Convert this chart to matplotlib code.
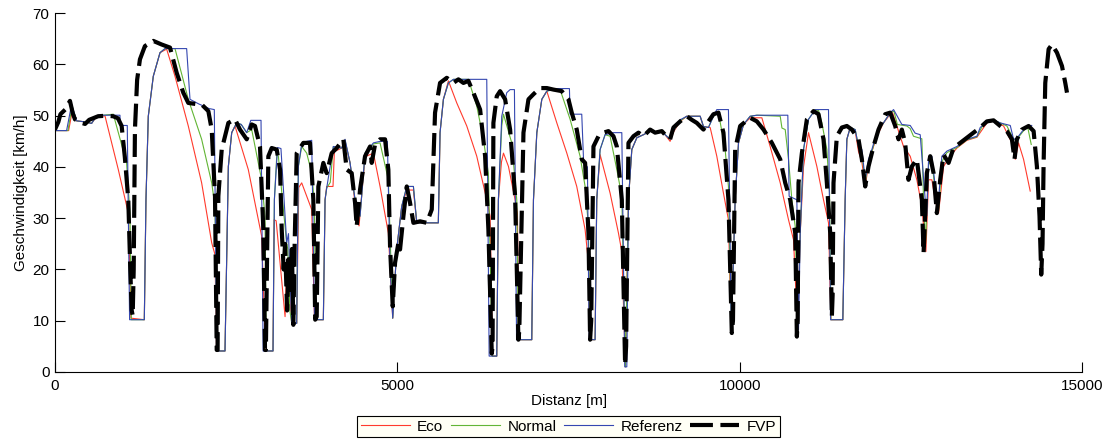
#!/usr/bin/env python3
"""Speed profile over distance: Eco / Normal / Referenz vs. FVP."""

import numpy as np
import matplotlib
matplotlib.use("Agg")
import matplotlib.pyplot as plt

# (distance [m], speed [km/h])
REFERENZ = [
    (0, 47.1), (170, 47.1), (243, 52.2), (316, 49.0), (440, 48.8), (535, 48.5),
    (600, 49.8), (633, 50.1), (949, 50.1), (955, 48.1), (1056, 48.1), (1090, 10.2),
    (1305, 10.2), (1329, 33.6), (1363, 49.9), (1436, 57.7), (1534, 62.3), (1607, 63.1),
    (1923, 63.1), (1972, 53.2), (2100, 52.3), (2250, 51.4), (2327, 51.2), (2360, 4.1),
    (2483, 4.1), (2532, 40.1), (2581, 46.7), (2654, 48.6), (2720, 48.3), (2800, 46.7),
    (2860, 49.1), (3009, 49.1), (3040, 4.1), (3184, 4.1), (3204, 33.6), (3250, 43.8),
    (3300, 43.6), (3384, 25.2), (3410, 27.0), (3457, 9.5), (3530, 9.5), (3554, 40.1),
    (3603, 44.5), (3676, 45.0), (3749, 45.2), (3790, 10.2), (3919, 10.2), (3944, 33.6),
    (3968, 35.9), (4065, 44.0), (4187, 43.7), (4236, 45.4), (4309, 40.8), (4382, 33.6),
    (4455, 30.4), (4528, 42.7), (4650, 44.7), (4747, 45.0), (4854, 45.0), (4893, 20.6),
    (4932, 10.5), (4990, 23.9), (5063, 32.3), (5137, 36.2), (5234, 36.2), (5283, 29.1),
    (5598, 29.1), (5623, 46.7), (5672, 53.2), (5745, 56.4), (5818, 57.1), (6305, 57.1),
    (6340, 3.1), (6451, 3.1), (6475, 33.6), (6524, 49.9), (6597, 54.5), (6646, 55.1),
    (6709, 55.1), (6740, 6.3), (6962, 6.3), (6987, 33.6), (7036, 46.7), (7109, 53.2),
    (7182, 54.8), (7279, 55.3), (7512, 55.3), (7522, 50.3), (7692, 50.3), (7720, 40.8),
    (7775, 40.0), (7800, 6.3), (7887, 6.3), (7911, 33.6), (7960, 43.4), (8033, 46.3),
    (8155, 46.7), (8277, 46.7), (8320, 1.0), (8350, 1.0), (8374, 33.6), (8423, 43.4),
    (8496, 45.7), (8593, 46.3), (8690, 47.0), (8763, 46.7), (8861, 47.0), (8909, 46.3),
    (8982, 45.4), (9031, 47.0), (9129, 49.2), (9226, 49.9), (9421, 49.9), (9469, 47.9),
    (9542, 47.7), (9615, 49.9), (9664, 51.2), (9834, 51.2), (9875, 7.6), (9932, 33.6),
    (9981, 44.7), (10054, 48.3), (10151, 49.9), (10249, 50.1), (10701, 50.1), (10720, 34.3),
    (10833, 33.6), (10857, 8.2), (10882, 27.1), (10930, 43.4), (11003, 49.3), (11101, 51.2),
    (11295, 51.2), (11325, 10.2), (11504, 10.2), (11538, 33.6), (11563, 45.4), (11612, 47.7),
    (11685, 47.3), (11733, 44.0), (11782, 43.4), (11831, 37.5), (11879, 41.5), (11928, 43.4),
    (12001, 46.7), (12098, 48.6), (12196, 50.6), (12245, 51.2), (12366, 48.3), (12488, 48.1),
    (12560, 46.6), (12634, 46.3), (12707, 33.6), (12730, 30.5), (12756, 41.5), (12804, 42.1),
    (12853, 36.2), (12902, 33.6), (12950, 42.1), (13024, 43.1), (13170, 44.0), (13316, 45.4),
    (13462, 46.0), (13510, 47.7), (13608, 48.9), (13705, 49.2), (13802, 48.6), (13949, 48.1),
    (13997, 45.4), (14046, 45.6), (14143, 47.3), (14241, 48.0), (14262, 48.1),
]

NORMAL = [
    (0, 47.1), (190, 47.1), (250, 51.9), (316, 49.0), (440, 48.8), (535, 48.5),
    (600, 49.8), (633, 50.0), (852, 50.3), (1046, 40.8), (1095, 31.0), (1115, 10.2),
    (1305, 10.2), (1329, 33.6), (1363, 49.9), (1436, 57.7), (1534, 62.3), (1607, 63.1),
    (1753, 63.1), (1947, 53.2), (2142, 45.4), (2289, 36.9), (2337, 32.3), (2362, 4.1),
    (2483, 4.1), (2532, 40.1), (2581, 46.7), (2654, 48.6), (2720, 48.3), (2800, 46.7),
    (2873, 47.3), (3018, 37.5), (3067, 30.4), (3085, 4.1), (3184, 4.1), (3204, 33.6),
    (3240, 42.5), (3262, 42.1), (3384, 25.0), (3400, 24.0), (3430, 12.0), (3457, 9.5),
    (3530, 9.5), (3554, 40.1), (3603, 44.0), (3676, 42.7), (3749, 38.8), (3785, 33.6),
    (3810, 10.2), (3919, 10.2), (3944, 33.6), (3968, 35.9), (4020, 37.0), (4065, 44.0),
    (4187, 43.7), (4236, 45.2), (4309, 40.8), (4382, 33.6), (4455, 30.4), (4528, 42.7),
    (4650, 44.5), (4747, 44.7), (4868, 37.5), (4932, 10.5), (4990, 23.9), (5063, 32.3),
    (5137, 36.2), (5234, 36.2), (5283, 29.1), (5598, 29.1), (5623, 46.7), (5672, 53.2),
    (5745, 56.4), (5818, 57.1), (6037, 57.1), (6159, 51.9), (6256, 45.4), (6329, 38.8),
    (6385, 3.1), (6451, 3.1), (6475, 33.6), (6524, 48.0), (6549, 50.3), (6670, 44.7),
    (6743, 33.6), (6765, 6.3), (6962, 6.3), (6987, 33.6), (7036, 46.7), (7109, 53.2),
    (7182, 54.8), (7279, 55.1), (7376, 55.1), (7522, 49.3), (7668, 42.1), (7741, 36.2),
    (7790, 28.4), (7805, 6.3), (7887, 6.3), (7911, 33.6), (7960, 43.4), (8033, 46.3),
    (8106, 46.0), (8204, 39.5), (8277, 34.3), (8330, 1.0), (8374, 33.6), (8423, 43.4),
    (8496, 45.7), (8593, 46.3), (8690, 47.0), (8763, 46.7), (8861, 47.0), (8909, 46.3),
    (8982, 45.4), (9031, 47.0), (9129, 49.0), (9226, 49.9), (9421, 49.9), (9469, 47.9),
    (9542, 47.7), (9615, 49.9), (9688, 50.6), (9786, 43.4), (9834, 36.2), (9875, 7.6),
    (9932, 33.6), (9981, 44.7), (10054, 48.3), (10151, 49.9), (10249, 50.1), (10590, 49.9),
    (10615, 47.6), (10663, 47.3), (10711, 41.5), (10760, 33.6), (10809, 28.4), (10845, 8.2),
    (10882, 27.1), (10930, 43.4), (11003, 49.3), (11101, 51.2), (11150, 51.0), (11198, 48.6),
    (11271, 43.4), (11310, 35.0), (11330, 10.2), (11504, 10.2), (11538, 33.6), (11563, 45.4),
    (11612, 47.7), (11685, 47.3), (11733, 44.0), (11782, 42.5), (11831, 37.0), (11879, 41.0),
    (11928, 43.0), (12001, 46.5), (12098, 48.6), (12196, 50.6), (12250, 50.9), (12300, 48.3),
    (12439, 48.0), (12488, 47.5), (12536, 46.0), (12658, 45.5), (12683, 33.6), (12712, 25.0),
    (12756, 40.5), (12804, 41.5), (12853, 35.0), (12902, 31.5), (12950, 41.0), (13024, 42.8),
    (13170, 43.8), (13316, 45.3), (13462, 45.9), (13530, 47.7), (13608, 48.9), (13705, 49.2),
    (13802, 48.6), (13900, 48.0), (13997, 45.4), (14046, 45.4), (14168, 47.5), (14200, 48.0),
    (14255, 44.4),
]

ECO = [
    (0, 47.1), (200, 47.1), (256, 51.2), (316, 49.0), (440, 48.8), (535, 48.5),
    (600, 49.7), (730, 50.0), (925, 39.5), (1071, 31.0), (1090, 22.0), (1110, 10.5),
    (1305, 10.2), (1329, 33.6), (1363, 49.9), (1436, 57.7), (1534, 62.3), (1631, 63.0),
    (1753, 57.7), (1947, 48.0), (2142, 36.9), (2289, 25.2), (2337, 22.9), (2360, 4.1),
    (2483, 4.1), (2532, 40.1), (2581, 46.7), (2629, 48.0), (2823, 39.5), (3018, 26.5),
    (3060, 10.0), (3080, 4.1), (3184, 4.1), (3200, 29.7), (3230, 29.5), (3360, 10.8),
    (3390, 22.0), (3430, 14.0), (3457, 9.5), (3530, 9.5), (3560, 36.0), (3603, 36.9),
    (3749, 31.7), (3790, 10.2), (3919, 10.2), (3944, 33.6), (3968, 36.2), (4060, 36.2),
    (4080, 43.0), (4187, 43.7), (4236, 45.0), (4309, 40.8), (4382, 33.0), (4440, 28.5),
    (4528, 42.0), (4650, 42.7), (4747, 36.2), (4868, 27.1), (4932, 10.5), (4990, 23.9),
    (5063, 32.3), (5137, 35.5), (5234, 35.5), (5283, 29.1), (5598, 29.1), (5623, 46.7),
    (5672, 53.2), (5745, 56.8), (5867, 52.5), (6013, 48.0), (6159, 42.1), (6305, 33.6),
    (6354, 30.4), (6390, 3.1), (6451, 3.1), (6475, 33.6), (6520, 41.0), (6549, 42.7),
    (6622, 40.1), (6719, 33.6), (6753, 31.0), (6770, 6.3), (6962, 6.3), (6987, 33.6),
    (7036, 46.7), (7109, 53.2), (7182, 54.8), (7328, 48.6), (7474, 42.7), (7619, 36.2),
    (7741, 27.8), (7790, 21.3), (7805, 6.3), (7887, 6.3), (7911, 33.6), (7960, 42.4),
    (8106, 34.9), (8228, 27.1), (8277, 23.5), (8330, 1.0), (8374, 33.6), (8423, 43.4),
    (8496, 45.7), (8593, 46.3), (8690, 47.0), (8763, 46.7), (8861, 47.0), (8909, 46.3),
    (8982, 45.0), (9031, 46.8), (9129, 48.9), (9226, 49.9), (9421, 49.9), (9469, 47.9),
    (9567, 47.7), (9664, 42.1), (9761, 34.9), (9834, 29.7), (9875, 7.6), (9932, 33.6),
    (9981, 44.7), (10054, 48.3), (10151, 49.6), (10322, 49.6), (10443, 44.0), (10590, 36.9),
    (10711, 29.7), (10784, 25.8), (10845, 8.2), (10882, 27.1), (10930, 40.0), (11003, 46.7),
    (11125, 40.1), (11222, 33.6), (11295, 29.1), (11330, 10.2), (11504, 10.2), (11538, 33.6),
    (11563, 45.4), (11612, 47.7), (11685, 47.0), (11733, 43.0), (11782, 41.0), (11831, 36.2),
    (11879, 40.5), (11928, 43.0), (12001, 46.0), (12098, 48.6), (12196, 50.3), (12230, 50.6),
    (12293, 48.0), (12390, 44.0), (12488, 42.1), (12585, 37.5), (12658, 32.3), (12717, 23.5),
    (12756, 37.5), (12804, 37.5), (12853, 33.6), (12902, 31.0), (12975, 40.1), (13072, 42.1),
    (13170, 43.7), (13316, 45.2), (13462, 45.8), (13560, 47.7), (13608, 48.6), (13705, 49.0),
    (13851, 48.0), (13973, 44.7), (14022, 41.5), (14070, 44.7), (14143, 41.5), (14240, 35.3),
]

FVP = [
    (0, 47.3), (50, 48.8), (80, 50.3), (150, 51.2), (219, 52.9), (260, 50.5),
    (292, 49.3), (340, 49.0), (390, 48.6), (440, 48.4), (500, 49.2), (630, 49.9),
    (750, 50.0), (850, 49.9), (920, 49.5), (974, 48.0), (1020, 42.0), (1071, 33.6),
    (1100, 20.0), (1120, 12.1), (1135, 11.0), (1150, 20.0), (1168, 47.3), (1200, 57.0),
    (1241, 61.0), (1314, 63.6), (1436, 64.6), (1558, 63.9), (1680, 63.3), (1777, 58.4),
    (1874, 54.5), (1947, 52.5), (2050, 52.3), (2142, 52.2), (2240, 50.9), (2289, 47.3),
    (2337, 34.3), (2362, 4.3), (2375, 4.3), (2386, 34.3), (2435, 43.4), (2532, 48.6),
    (2629, 49.3), (2702, 47.3), (2800, 45.4), (2873, 48.3), (2921, 48.0), (2994, 44.0),
    (3043, 27.8), (3067, 4.3), (3080, 4.3), (3116, 42.1), (3165, 43.7), (3238, 43.4),
    (3287, 39.5), (3311, 27.8), (3340, 20.0), (3360, 25.0), (3390, 12.0), (3410, 22.0),
    (3440, 16.0), (3460, 24.0), (3481, 9.2), (3500, 25.0), (3530, 42.7), (3627, 44.7),
    (3724, 44.7), (3773, 33.6), (3800, 10.2), (3822, 10.8), (3846, 36.2), (3919, 40.8),
    (3968, 38.8), (4041, 42.7), (4114, 43.7), (4211, 45.4), (4260, 39.5), (4333, 38.8),
    (4382, 33.0), (4406, 28.4), (4455, 35.6), (4528, 42.1), (4601, 44.0), (4625, 40.8),
    (4674, 44.4), (4747, 45.4), (4820, 45.4), (4868, 39.5), (4893, 24.5), (4932, 12.8),
    (4966, 21.3), (5015, 25.2), (5039, 23.9), (5088, 30.4), (5137, 36.2), (5185, 33.0),
    (5234, 29.1), (5331, 29.4), (5429, 29.1), (5502, 31.7), (5550, 50.6), (5623, 56.4),
    (5721, 57.4), (5818, 56.4), (5891, 57.1), (5964, 56.4), (6037, 56.8), (6110, 54.5),
    (6208, 51.2), (6281, 42.1), (6329, 27.8), (6378, 3.6), (6390, 5.0), (6402, 48.6),
    (6451, 53.8), (6500, 54.8), (6573, 53.2), (6646, 47.3), (6719, 34.3), (6767, 6.3),
    (6780, 8.0), (6841, 46.7), (6914, 53.2), (6987, 54.2), (7084, 55.4), (7182, 55.4),
    (7279, 55.1), (7400, 54.8), (7498, 53.2), (7546, 50.6), (7619, 47.3), (7692, 41.5),
    (7741, 40.8), (7790, 27.1), (7814, 6.3), (7830, 10.0), (7863, 44.0), (7936, 46.0),
    (8009, 46.7), (8082, 47.0), (8155, 46.0), (8204, 44.0), (8277, 33.6), (8325, 1.4),
    (8340, 5.0), (8374, 44.7), (8447, 46.0), (8520, 46.7), (8593, 46.0), (8690, 47.3),
    (8763, 46.7), (8861, 47.0), (8909, 46.3), (8982, 45.4), (9031, 47.7), (9129, 48.9),
    (9226, 49.9), (9299, 49.2), (9372, 48.6), (9469, 47.3), (9542, 48.9), (9615, 50.3),
    (9688, 50.6), (9761, 46.7), (9834, 33.6), (9883, 7.6), (9900, 10.0), (9932, 43.4),
    (10005, 48.0), (10151, 49.6), (10249, 48.9), (10346, 47.3), (10468, 44.7), (10590, 41.5),
    (10663, 36.9), (10736, 33.6), (10809, 27.1), (10833, 6.9), (10845, 10.0), (10857, 36.9),
    (10906, 42.7), (10979, 49.3), (11076, 50.9), (11149, 50.3), (11222, 45.4), (11271, 36.9),
    (11320, 27.1), (11344, 10.8), (11355, 15.0), (11368, 36.9), (11417, 46.0), (11490, 47.7),
    (11563, 48.0), (11636, 47.3), (11733, 45.4), (11782, 41.5), (11831, 36.2), (11879, 40.1),
    (11952, 44.0), (12025, 47.3), (12123, 50.3), (12196, 50.6), (12269, 48.0), (12317, 45.4),
    (12366, 47.3), (12414, 44.7), (12463, 37.5), (12512, 40.1), (12585, 41.5), (12658, 33.6),
    (12683, 23.2), (12731, 38.8), (12780, 42.1), (12829, 38.8), (12877, 31.0), (12926, 37.5),
    (12975, 42.4), (13048, 40.8), (13121, 43.7), (13218, 44.7), (13316, 45.7), (13413, 46.7),
    (13510, 47.7), (13608, 48.9), (13705, 49.1), (13802, 48.0), (13900, 47.0), (13973, 45.4),
    (14011, 41.5), (14046, 45.4), (14119, 47.3), (14217, 48.0), (14290, 47.0), (14338, 40.1),
    (14376, 30.4), (14401, 19.0), (14420, 25.0), (14435, 40.1), (14460, 56.4), (14509, 63.0),
    (14558, 63.9), (14631, 62.3), (14704, 59.7), (14752, 56.4), (14777, 54.5),
]

SERIES = [
    ("Eco", ECO, "#ff3a2c", 0.8),
    ("Normal", NORMAL, "#62b534", 0.8),
    ("Referenz", REFERENZ, "#3547b0", 0.8),
]


def main() -> None:
    plt.rcParams["font.family"] = ["Liberation Sans", "DejaVu Sans"]
    fig = plt.figure(figsize=(11.1, 4.41), dpi=100)
    ax = fig.add_axes([0.0495, 0.1565, 0.9255, 0.8135])

    for label, pts, color, lw in SERIES:
        arr = np.array(pts, dtype=float)
        ax.plot(arr[:, 0], arr[:, 1], color=color, lw=lw, label=label)

    fvp = np.array(FVP, dtype=float)
    ax.plot(fvp[:, 0], fvp[:, 1], color="black", lw=3.0, ls=(0, (5.5, 1.8)),
            label="FVP")

    ax.set_xlim(0, 15000)
    ax.set_ylim(0, 70)
    ax.set_xticks([0, 5000, 10000, 15000])
    ax.set_yticks(range(0, 71, 10))
    ax.spines["top"].set_visible(False)
    ax.spines["right"].set_visible(False)
    ax.tick_params(direction="in", length=7, width=0.8, labelsize=11)
    ax.tick_params(axis="x", pad=5)
    ax.tick_params(axis="y", pad=4)
    ax.set_xlabel("Distanz [m]", fontsize=11, labelpad=1)
    ax.set_ylabel("Geschwindigkeit [km/h]", fontsize=11, labelpad=3)

    leg = ax.legend(loc="center", bbox_to_anchor=(0.5, -0.152), ncol=4,
                    fontsize=11, frameon=True, fancybox=False,
                    handlelength=3.2, columnspacing=0.5, handletextpad=0.5,
                    borderpad=0.25)
    leg.get_frame().set_edgecolor("black")
    leg.get_frame().set_facecolor("#fffff5")
    leg.get_frame().set_linewidth(0.8)
    leg.get_frame().set_alpha(1)

    fig.savefig("out.png", dpi=100)
    plt.close(fig)


if __name__ == "__main__":
    main()
